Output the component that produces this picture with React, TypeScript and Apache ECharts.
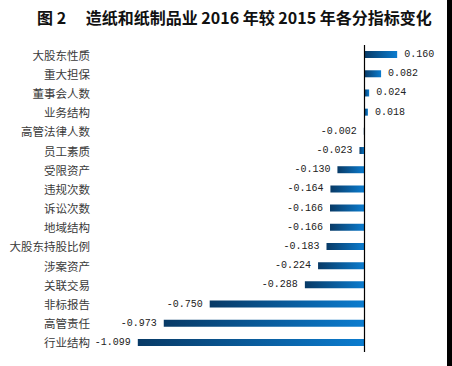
import React, { useEffect, useRef } from "react";
import * as echarts from "echarts";

const titleText = "图 2\u3000 造纸和纸制品业 2016 年较 2015 年各分指标变化";

const categories = [
  "大股东性质",
  "重大担保",
  "董事会人数",
  "业务结构",
  "高管法律人数",
  "员工素质",
  "受限资产",
  "违规次数",
  "诉讼次数",
  "地域结构",
  "大股东持股比例",
  "涉案资产",
  "关联交易",
  "非标报告",
  "高管责任",
  "行业结构",
];

const values = [
  0.16, 0.082, 0.024, 0.018, -0.002, -0.023, -0.13, -0.164, -0.166, -0.166,
  -0.183, -0.224, -0.288, -0.75, -0.973, -1.099,
];

export default function App() {
  const ref = useRef<HTMLDivElement>(null);
  useEffect(() => {
    if (!ref.current) return;
    const chart = echarts.init(ref.current, undefined, { renderer: "svg" });
    const grad = new echarts.graphic.LinearGradient(0, 0, 1, 0, [
      { offset: 0, color: "#083a66" },
      { offset: 1, color: "#0b7ccf" },
    ]);
    chart.setOption({
      animation: false,
      backgroundColor: "#ffffff",
      title: {
        text: titleText,
        left: 32,
        top: 4,
        textStyle: {
          fontFamily: "Noto Sans CJK SC",
          fontWeight: "bold",
          fontSize: 16,
          color: "#111",
        },
      },
      grid: { left: 117, right: 26, top: 45, height: 307, containLabel: false },
      xAxis: {
        type: "value",
        min: -1.2,
        max: 0.3,
        show: false,
        splitLine: { show: false },
      },
      yAxis: {
        type: "category",
        data: categories,
        inverse: true,
        position: "left",
        axisLine: { show: false, onZero: false },
        axisTick: { show: false },
        axisLabel: {
          margin: 27,
          fontFamily: "Noto Sans CJK SC",
          fontSize: 11.5,
          color: "#3a3a3a",
        },
      },
      series: [
        {
          type: "bar",
          data: values.map((v) => ({
            value: v,
            label: { position: v >= 0 ? "right" : "left" },
          })),
          barWidth: 7,
          itemStyle: { color: grad },
          label: {
            show: true,
            distance: 7,
            fontFamily: "Liberation Mono",
            fontSize: 10,
            color: "#222",
            formatter: (p: any) => Number(p.value).toFixed(3),
          },
          markLine: {
            silent: true,
            symbol: "none",
            label: { show: false },
            lineStyle: { color: "#000", width: 1.2, type: "solid" },
            data: [{ xAxis: 0 }],
          },
        },
      ],
    });
    return () => chart.dispose();
  }, []);
  return (
    <>
      <div ref={ref} style={{ width: 452, height: 366, margin: -8 }} />
      <div
        style={{
          position: "fixed",
          top: 0,
          right: 0,
          width: 5,
          height: 366,
          background: "#000",
        }}
      />
    </>
  );
}
